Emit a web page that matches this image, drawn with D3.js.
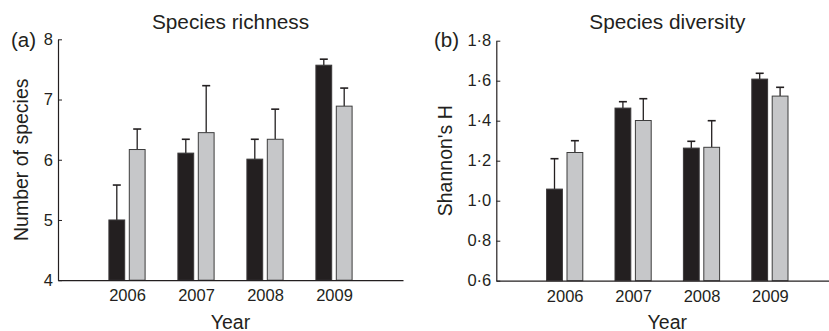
<!DOCTYPE html>
<html>
<head>
<meta charset="utf-8">
<script src="https://cdn.jsdelivr.net/npm/d3@7"></script>
<style>
html,body{margin:0;padding:0;background:#fff;overflow:hidden;}
svg{display:block;font-family:"Liberation Sans",Arial,Helvetica,sans-serif;}
</style>
</head>
<body>
<svg id="chart" width="829" height="331"></svg>
<script>
// ---- data ----
const years = ["2006", "2007", "2008", "2009"];

const richnessBlack    = [5.00, 6.11, 6.01, 7.57];
const richnessBlackErr = [0.58, 0.23, 0.33, 0.10];
const richnessGray     = [6.17, 6.45, 6.34, 6.89];
const richnessGrayErr  = [0.34, 0.78, 0.50, 0.30];

const diversityBlack    = [1.058, 1.463, 1.263, 1.608];
const diversityBlackErr = [0.152, 0.032, 0.034, 0.029];
const diversityGray     = [1.241, 1.401, 1.267, 1.523];
const diversityGrayErr  = [0.059, 0.109, 0.133, 0.044];

const richnessTicks  = [4, 5, 6, 7, 8];
const diversityTicks = [0.6, 0.8, 1.0, 1.2, 1.4, 1.6, 1.8];

// ---- drawing ----
const svg = d3.select("#chart");
const INK = "#231f20";
const GRAY = "#c6c7c9";
const FONT = "Liberation Sans, Arial, sans-serif";

function panel(opt) {
  const x = d3.scaleLinear().domain([0, years.length + 1]).range([opt.x0, opt.x1]);
  const y = d3.scaleLinear().domain(opt.yDomain).range([opt.yBottom, opt.yTop]);
  const g = svg.append("g");

  const barW = 15.8, halfGap = 2.3;
  const series = [
    {vals: opt.black, errs: opt.blackErr, fill: INK, stroke: "#3a3839", off: -halfGap - barW},
    {vals: opt.gray,  errs: opt.grayErr,  fill: GRAY, stroke: "#3d3d3d", off: halfGap}
  ];

  series.forEach(s => {
    const gs = g.append("g");
    gs.selectAll("line.err").data(years).join("line")
      .attr("x1", (d, i) => x(i + 1) + s.off + barW / 2)
      .attr("x2", (d, i) => x(i + 1) + s.off + barW / 2)
      .attr("y1", (d, i) => y(s.vals[i]))
      .attr("y2", (d, i) => y(s.vals[i] + s.errs[i]))
      .attr("stroke", INK).attr("stroke-width", 1.3);
    gs.selectAll("line.cap").data(years).join("line")
      .attr("x1", (d, i) => x(i + 1) + s.off + barW / 2 - 4)
      .attr("x2", (d, i) => x(i + 1) + s.off + barW / 2 + 4)
      .attr("y1", (d, i) => y(s.vals[i] + s.errs[i]))
      .attr("y2", (d, i) => y(s.vals[i] + s.errs[i]))
      .attr("stroke", INK).attr("stroke-width", 1.6);
    gs.selectAll("rect").data(years).join("rect")
      .attr("x", (d, i) => x(i + 1) + s.off)
      .attr("y", (d, i) => y(s.vals[i]))
      .attr("width", barW)
      .attr("height", (d, i) => y(opt.yDomain[0]) - y(s.vals[i]))
      .attr("fill", s.fill)
      .attr("stroke", s.stroke).attr("stroke-width", 1);
  });

  const ya = d3.axisLeft(y).tickValues(opt.ticks)
    .tickSizeInner(-4).tickSizeOuter(0).tickPadding(5)
    .tickFormat(opt.fmt);
  const yg = g.append("g").attr("transform", `translate(${opt.x0},0)`).call(ya);
  yg.select(".domain").attr("stroke", INK).attr("stroke-width", 1.2);
  yg.selectAll(".tick line").attr("stroke", INK).attr("stroke-width", 1);
  yg.selectAll(".tick text").attr("font-size", 16.5).attr("fill", INK)
    .attr("font-family", FONT);

  const xa = d3.axisBottom(x).tickValues(years.map((d, i) => i + 1))
    .tickSize(0).tickPadding(9.3).tickFormat((d) => years[d - 1]);
  const xg = g.append("g").attr("transform", `translate(0,${opt.yBottom})`).call(xa);
  xg.select(".domain").attr("stroke", INK).attr("stroke-width", 1.2);
  xg.selectAll(".tick text").attr("font-size", 16.5).attr("fill", INK)
    .attr("font-family", FONT);

  g.append("text").attr("x", (opt.x0 + opt.x1) / 2).attr("y", 28.5)
    .attr("text-anchor", "middle").attr("font-size", 20.8).attr("fill", INK)
    .text(opt.title);
  g.append("text").attr("x", opt.tagX).attr("y", 47)
    .attr("font-size", 20.5).attr("fill", INK).text(opt.tag);
  g.append("text").attr("x", (opt.x0 + opt.x1) / 2).attr("y", 328.5)
    .attr("text-anchor", "middle").attr("font-size", 19.5).attr("fill", INK)
    .text("Year");
  g.append("text")
    .attr("transform", `translate(${opt.ylabX},${(opt.yTop + opt.yBottom) / 2}) rotate(-90)`)
    .attr("text-anchor", "middle").attr("font-size", 19.5).attr("fill", INK)
    .text(opt.ylab);
}

const dotFmt = d => d3.format(".1f")(d).replace(".", "\u00b7");

panel({
  x0: 58, x1: 403, yTop: 39.3, yBottom: 280.2,
  yDomain: [4, 8], ticks: richnessTicks, fmt: d3.format("d"),
  black: richnessBlack, blackErr: richnessBlackErr,
  gray: richnessGray, grayErr: richnessGrayErr,
  title: "Species richness", tag: "(a)", tagX: 11,
  ylab: "Number of species", ylabX: 28
});

panel({
  x0: 496.3, x1: 838.3, yTop: 40.7, yBottom: 280.7,
  yDomain: [0.6, 1.8], ticks: diversityTicks, fmt: dotFmt,
  black: diversityBlack, blackErr: diversityBlackErr,
  gray: diversityGray, grayErr: diversityGrayErr,
  title: "Species diversity", tag: "(b)", tagX: 434,
  ylab: "Shannon's H", ylabX: 452
});
</script>
</body>
</html>
